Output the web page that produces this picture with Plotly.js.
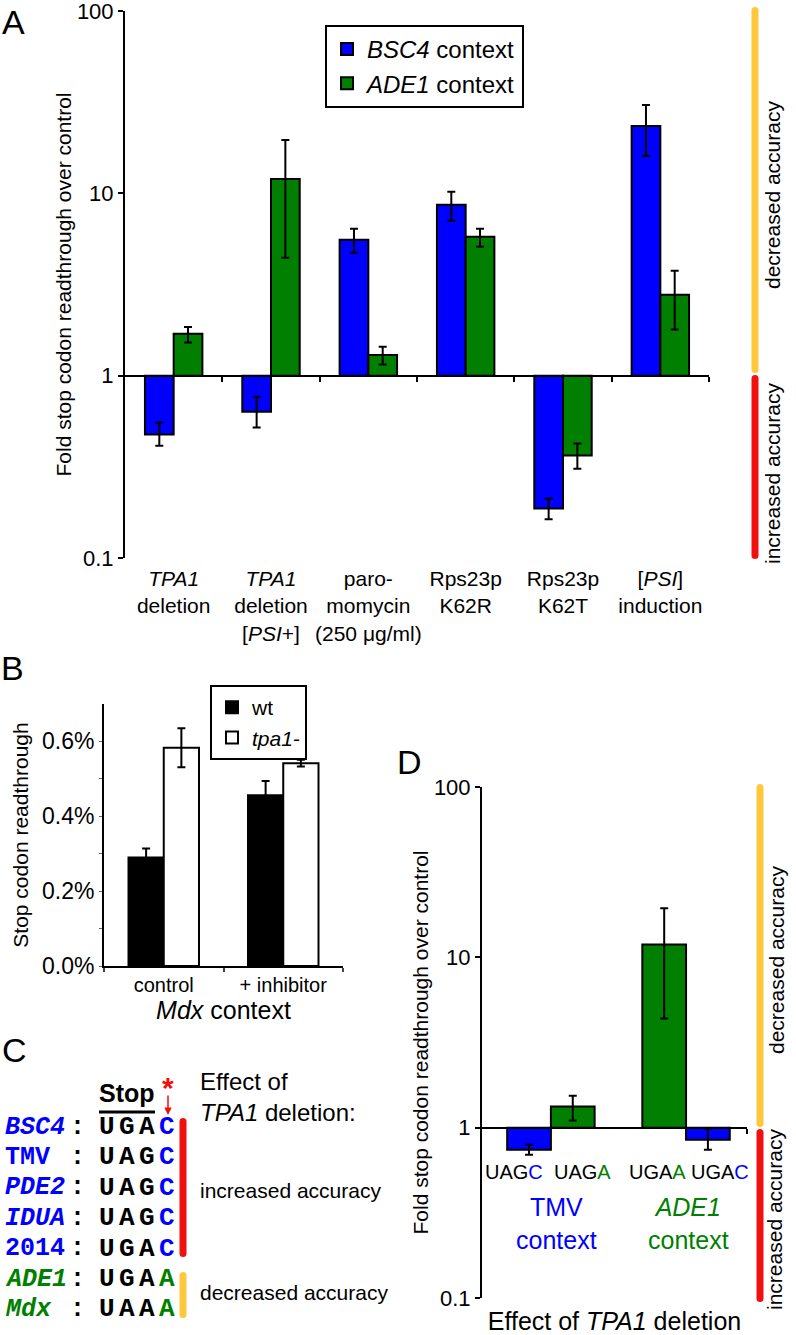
<!DOCTYPE html>
<html><head><meta charset="utf-8">
<script src="https://cdn.plot.ly/plotly-3.0.1.min.js"></script>
<style>html,body{margin:0;padding:0;background:#fff}</style>
</head><body>
<div id="chart" style="width:796px;height:1335px"></div>
<script>
// ---------- Panel A data ----------
const categoriesA = ['TPA1 deletion', 'TPA1 deletion [PSI+]', 'paromomycin (250 μg/ml)', 'Rps23p K62R', 'Rps23p K62T', '[PSI] induction'];
const tickLabelsA = ['<i>TPA1</i><br>deletion', '<i>TPA1</i><br>deletion<br>[<i>PSI</i>+]', 'paro-<br>momycin<br>(250 μg/ml)', 'Rps23p<br>K62R', 'Rps23p<br>K62T', '[<i>PSI</i>]<br>induction'];
const bsc4Fold = [0.475, 0.635, 5.56, 8.65, 0.187, 23.4];
const bsc4High = [0.553, 0.767, 6.39, 10.2, 0.212, 30.5];
const bsc4Low  = [0.413, 0.519, 4.72, 7.07, 0.163, 16.0];
const ade1Fold = [1.70, 12.0, 1.30, 5.78, 0.365, 2.78];
const ade1High = [1.85, 19.6, 1.44, 6.39, 0.424, 3.76];
const ade1Low  = [1.52, 4.43, 1.15, 5.09, 0.309, 1.79];
const logTickVals = [0.1, 1, 10, 100];
const logTickText = ['0.1', '1', '10', '100'];

// ---------- Panel B data (percent) ----------
const categoriesB = ['control', '+ inhibitor'];
const wtReadthrough = [0.290, 0.456];
const wtErr = [0.024, 0.038];
const tpa1Readthrough = [0.583, 0.542];
const tpa1Err = [0.052, 0.009];
const pctTickVals = [0, 0.1, 0.2, 0.3, 0.4, 0.5, 0.6];
const pctTickText = ['0.0%', '', '0.2%', '', '0.4%', '', '0.6%'];

// ---------- Panel C data ----------
const geneNames  = ['BSC4', 'TMV', 'PDE2', 'IDUA', '2014', 'ADE1', 'Mdx'];
const geneItalic = [true, false, true, true, false, true, true];
const stopSeqs   = ['UGAC', 'UAGC', 'UAGC', 'UAGC', 'UGAC', 'UGAA', 'UAAA'];
const geneEffect = ['increased', 'increased', 'increased', 'increased', 'increased', 'decreased', 'decreased'];

// ---------- Panel D data ----------
const categoriesD = ['TMV', 'ADE1'];
const contextLabelsD = ['TMV<br>context', '<i>ADE1</i><br>context'];
const dBlueCodons = ['UAGC', 'UGAC'];
const dBlueFold = [0.743, 0.85];
const dBlueHigh = [0.794, 0.99];
const dBlueLow  = [0.694, 0.743];
const dGreenCodons = ['UAGA', 'UGAA'];
const dGreenFold = [1.33, 11.9];
const dGreenHigh = [1.54, 19.4];
const dGreenLow  = [1.10, 4.38];

// ---------- styling ----------
const BLUE = '#0000FF', GREEN = '#007F00', RED = '#F01010', YELLOW = '#FFC83C';
const SANS = 'Liberation Sans, Arial, sans-serif';
const MONO = 'Liberation Mono, Courier New, monospace';
const W = 796, H = 1335;
const px = x => x / W;
const py = y => 1 - y / H;

const minus1 = arr => arr.map(v => v - 1);
const diff = (a, b) => a.map((v, i) => v - b[i]);
const errBar = (hi, lo, v) => ({type: 'data', symmetric: false, array: diff(hi, v), arrayminus: diff(v, lo),
  color: '#000', thickness: 2, width: 4});
const barLine = {color: '#000', width: 2};

const traces = [
  // Panel A
  {type: 'bar', name: '<i>BSC4</i> context', x: categoriesA, y: minus1(bsc4Fold), base: 1,
   marker: {color: BLUE, line: barLine}, error_y: errBar(bsc4High, bsc4Low, bsc4Fold),
   xaxis: 'x', yaxis: 'y', legend: 'legend'},
  {type: 'bar', name: '<i>ADE1</i> context', x: categoriesA, y: minus1(ade1Fold), base: 1,
   marker: {color: GREEN, line: barLine}, error_y: errBar(ade1High, ade1Low, ade1Fold),
   xaxis: 'x', yaxis: 'y', legend: 'legend'},
  {type: 'scatter', x: [], y: [], xaxis: 'x4', yaxis: 'y', showlegend: false, hoverinfo: 'skip'},
  // Panel B
  {type: 'bar', name: 'wt', x: categoriesB, y: wtReadthrough,
   marker: {color: '#000', line: barLine}, error_y: {type: 'data', array: wtErr, color: '#000', thickness: 2, width: 4},
   xaxis: 'x2', yaxis: 'y2', legend: 'legend2'},
  {type: 'bar', name: '<i>tpa1-</i>', x: categoriesB, y: tpa1Readthrough,
   marker: {color: '#fff', line: barLine}, error_y: {type: 'data', array: tpa1Err, color: '#000', thickness: 2, width: 4},
   xaxis: 'x2', yaxis: 'y2', legend: 'legend2'},
  // Panel D
  {type: 'bar', name: 'C ending', x: categoriesD, y: minus1(dBlueFold), base: 1, width: 0.33, offset: [-0.31, 0.04],
   marker: {color: BLUE, line: barLine}, error_y: errBar(dBlueHigh, dBlueLow, dBlueFold),
   xaxis: 'x3', yaxis: 'y3', showlegend: false},
  {type: 'bar', name: 'A ending', x: categoriesD, y: minus1(dGreenFold), base: 1, width: 0.33, offset: [0.02, -0.29],
   marker: {color: GREEN, line: barLine}, error_y: errBar(dGreenHigh, dGreenLow, dGreenFold),
   xaxis: 'x3', yaxis: 'y3', showlegend: false},
  {type: 'scatter', x: [], y: [], xaxis: 'x5', yaxis: 'y3', showlegend: false, hoverinfo: 'skip'}
];

const axBase = {showgrid: false, zeroline: false, fixedrange: true};
const logY = (domTop, domBot, anchor, standoff) => Object.assign({}, axBase, {
  type: 'log', range: [-1, 2], domain: [py(domBot), py(domTop)], anchor: anchor,
  showline: true, linewidth: 2, linecolor: '#000', ticks: 'outside', ticklen: 5, tickwidth: 2, tickcolor: '#000',
  tickvals: logTickVals, ticktext: logTickText, tickfont: {size: 22}, ticklabeloverflow: 'allow',
  title: {text: 'Fold stop codon readthrough over control', font: {size: 21}, standoff: standoff}
});

const layout = {
  width: W, height: H, margin: {l: 0, r: 0, t: 0, b: 0},
  paper_bgcolor: '#fff', plot_bgcolor: 'rgba(0,0,0,0)',
  font: {family: SANS, size: 20, color: '#000'},
  barmode: 'group', bargap: 0.41, bargroupgap: 0, hovermode: false,
  // Panel A
  xaxis: Object.assign({}, axBase, {domain: [px(125), px(709)], anchor: 'y', type: 'category',
    tickvals: categoriesA, ticktext: tickLabelsA, showline: false, ticks: '',
    tickfont: {size: 21}, ticklabelstandoff: 6}),
  xaxis4: Object.assign({}, axBase, {overlaying: 'x', anchor: 'free', position: py(376), range: [0, 6],
    showline: true, linewidth: 2, linecolor: '#000', ticks: 'outside', ticklen: 5, tickwidth: 2, tickcolor: '#000',
    tickvals: [1, 2, 3, 4, 5, 6], showticklabels: false}),
  yaxis: logY(11, 558, 'x', 0),
  // Panel B
  xaxis2: Object.assign({}, axBase, {domain: [px(104), px(343)], anchor: 'y2', type: 'category',
    showline: true, linewidth: 2, linecolor: '#000', ticks: 'outside', tickson: 'boundaries', ticklen: 4, tickwidth: 2,
    tickfont: {size: 20}, title: {text: '<i>Mdx</i> context', font: {size: 25}, standoff: 2}}),
  yaxis2: Object.assign({}, axBase, {domain: [py(966), py(704)], range: [0, 0.7], anchor: 'x2',
    showline: true, linewidth: 2, linecolor: '#000', ticks: 'outside', ticklen: 3, tickwidth: 1, tickcolor: '#666',
    tickvals: pctTickVals, ticktext: pctTickText, tickfont: {size: 23},
    title: {text: 'Stop codon readthrough', font: {size: 21}, standoff: 8}}),
  // Panel D
  xaxis3: Object.assign({}, axBase, {domain: [px(482), px(747)], anchor: 'y3', type: 'category',
    showline: false, ticks: '', showticklabels: false,
    title: {text: 'Effect of <i>TPA1</i> deletion', font: {size: 25}, standoff: 15}}),
  xaxis5: Object.assign({}, axBase, {overlaying: 'x3', anchor: 'free', position: py(1128), range: [-0.5, 1.5],
    showline: true, linewidth: 2, linecolor: '#000', ticks: 'outside', ticklen: 5, tickwidth: 2, tickcolor: '#000',
    tickvals: [1.5], showticklabels: false}),
  yaxis3: logY(787, 1298, 'x3', 0),
  legend: {x: px(325), y: py(25), xanchor: 'left', yanchor: 'top', bordercolor: '#000', borderwidth: 2,
    bgcolor: '#fff', font: {size: 24}, itemwidth: 30, tracegroupgap: 0},
  legend2: {x: px(210), y: py(685), xanchor: 'left', yanchor: 'top', bordercolor: '#000', borderwidth: 2,
    bgcolor: '#fff', font: {size: 21}, itemwidth: 30, tracegroupgap: 0},
  annotations: [],
  shapes: []
};

const ann = (text, x, y, opts) => layout.annotations.push(Object.assign({
  text: text, x: px(x), y: py(y), xref: 'paper', yref: 'paper', showarrow: false,
  xanchor: 'center', yanchor: 'middle', font: {size: 20, color: '#000'}}, opts || {}));

function vbar(cx, y0, y1, color) {
  const h = 3.5;
  const P = (x, y) => px(x) + ',' + py(y);
  const path = 'M' + P(cx - h, y0 + h) + ' Q' + P(cx - h, y0) + ' ' + P(cx, y0) + ' Q' + P(cx + h, y0) + ' ' + P(cx + h, y0 + h) +
    ' L' + P(cx + h, y1 - h) + ' Q' + P(cx + h, y1) + ' ' + P(cx, y1) + ' Q' + P(cx - h, y1) + ' ' + P(cx - h, y1 - h) + ' Z';
  layout.shapes.push({type: 'path', path: path, xref: 'paper', yref: 'paper', fillcolor: color, line: {width: 0}});
}

// Panel letters
ann('A', 13, 22, {font: {size: 34}});
ann('B', 12, 668, {font: {size: 34}});
ann('C', 14, 1050, {font: {size: 34}});
ann('D', 409, 762, {font: {size: 34}});

// Accuracy bars and labels (A, D)
vbar(755, 7, 373, YELLOW);
vbar(755, 375, 559, RED);
ann('decreased accuracy', 772, 195, {textangle: -90, font: {size: 21}});
ann('increased accuracy', 772, 474, {textangle: -90, font: {size: 21}});
vbar(760, 784, 1127, YELLOW);
vbar(760, 1129, 1302, RED);
ann('decreased accuracy', 776, 960, {textangle: -90, font: {size: 21}});
ann('increased accuracy', 774, 1220, {textangle: -90, font: {size: 21}});

// Panel D labels
const codonPos = [514, 582, 657, 720];
const codonsD = [dBlueCodons[0], dGreenCodons[0], dGreenCodons[1], dBlueCodons[1]];
codonsD.forEach((c, i) => {
  const last = c.slice(-1);
  const col = last === 'C' ? BLUE : GREEN;
  ann(c.slice(0, -1) + '<span style="color:' + col + '">' + last + '</span>', codonPos[i], 1172, {font: {size: 20, color: '#000'}});
});
ann(contextLabelsD[0], 556, 1223, {font: {size: 25, color: BLUE}});
ann(contextLabelsD[1], 688, 1223, {font: {size: 25, color: GREEN}});

// Panel C
const rowY0 = 1127, rowStep = 30.4;
const letterX = [107, 127, 147, 167];
geneNames.forEach((g, i) => {
  const y = rowY0 + i * rowStep;
  const col = geneEffect[i] === 'increased' ? BLUE : GREEN;
  const t = geneItalic[i] ? '<b><i>' + g + '</i></b>' : '<b>' + g + '</b>';
  ann(t, 3, y, {xanchor: 'left', font: {family: MONO, size: 25, color: col}});
  ann('<b>:</b>', 77, y, {font: {family: MONO, size: 25, color: '#000'}});
  stopSeqs[i].split('').forEach((ch, j) => {
    ann('<b>' + ch + '</b>', letterX[j], y, {font: {family: MONO, size: 26, color: j === 3 ? col : '#000'}});
  });
});
ann('<b>Stop</b>', 127, 1093, {font: {size: 25}});
layout.shapes.push({type: 'line', xref: 'paper', yref: 'paper', x0: px(99), x1: px(155), y0: py(1112), y1: py(1112),
  line: {color: '#000', width: 3}});
ann('<b>*</b>', 168, 1087, {font: {size: 30, color: RED}});
// red arrow from the asterisk down to the variable nucleotide
layout.annotations.push({text: '', x: px(168), y: py(1115), xref: 'paper', yref: 'paper', showarrow: true,
  ax: 0, ay: -21, arrowhead: 2, arrowsize: 1, arrowwidth: 1.5, arrowcolor: RED, standoff: 0, startstandoff: 0});
vbar(183, 1118, 1257, RED);
vbar(183, 1272, 1318, YELLOW);
ann('Effect of<br><i>TPA1</i> deletion:', 198, 1097, {xanchor: 'left', align: 'left', font: {size: 24}});
ann('increased accuracy', 198, 1190, {xanchor: 'left', font: {size: 21}});
ann('decreased accuracy', 198, 1292, {xanchor: 'left', font: {size: 21}});

Plotly.newPlot('chart', traces, layout, {displayModeBar: false, staticPlot: true});
</script>
</body></html>
